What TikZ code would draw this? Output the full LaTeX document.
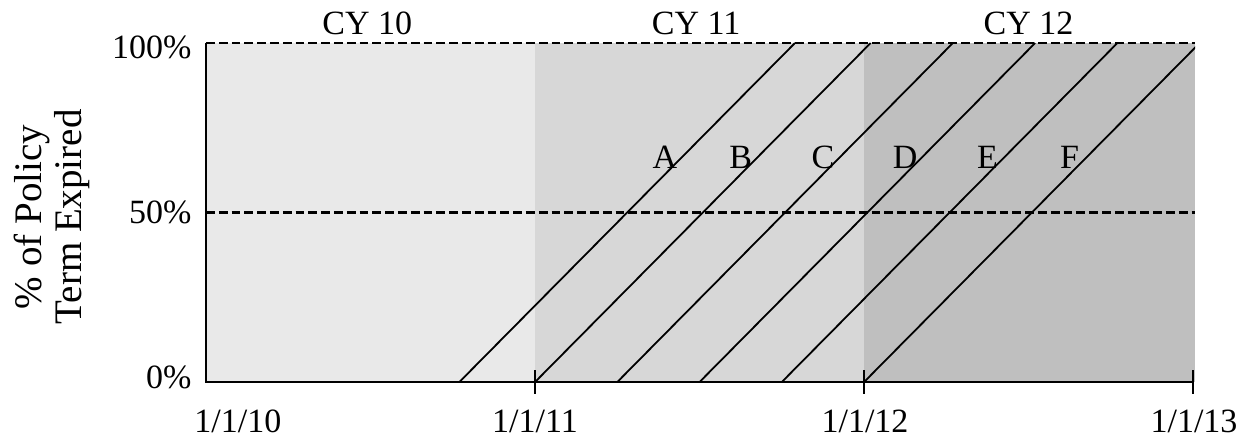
\documentclass[tikz,border=0pt]{standalone}
\usepackage{fontspec}
\setmainfont{Liberation Serif}
\usepackage{xcolor}
\usepackage{tikz}
\usetikzlibrary{positioning}
\definecolor{yearone}{HTML}{E9E9E9}
\definecolor{yeartwo}{HTML}{D7D7D7}
\definecolor{yearthree}{HTML}{BFBFBF}

\begin{document}
\begin{tikzpicture}[
    x=164.5pt, y=169.5pt,
    every node/.style={font=\fontsize{17}{20}\selectfont, inner sep=0pt},
    guide/.style={dash pattern=on 4.4pt off 2pt, line width=1.2pt},
    axis/.style={line width=1pt},
    policy/.style={line width=0.9pt},
    datelab/.style={anchor=base},
    pctlab/.style={anchor=east}
]
    \useasboundingbox (-0.626,-0.165) rectangle (3.164,1.127);

    % Calendar year bands
    \fill[yearone] (0,0) rectangle (1,1);
    \fill[yeartwo] (1,0) rectangle (2,1);
    \fill[yearthree] (2,0) rectangle (3.006,1);

    % Reference levels
    \draw[guide] (0,1) -- (3.006,1);
    \draw[guide] (0,0.5) -- (3.006,0.5);

    % Policy terms
    \begin{scope}
        \clip (0,-0.01) rectangle (3.006,1.01);
        \foreach \s in {0.77, 1.0, 1.25, 1.5, 1.75, 2.0} {
            \draw[policy] (\s,0) -- ++(1.02,1);
        }
    \end{scope}
    \foreach \s/\lab in {0.77/A, 1.0/B, 1.25/C, 1.5/D, 1.75/E, 2.0/F} {
        \node (pol\lab) at (\s+0.625, 0.664) {\lab};
    }

    % Axes
    \draw[axis] (0,1) -- (0,0) -- (3,0);
    \foreach \t in {1,2,3} {
        \draw[axis] (\t,-0.035) -- (\t,0.035);
    }

    % Calendar years
    \node[anchor=base] (cy10) at (0.49,1.024) {CY 10};
    \node[anchor=base] (cy11) at (1.49,1.024) {CY 11};
    \node[anchor=base] (cy12) at (2.50,1.024) {CY 12};

    % Dates
    \node[datelab] (d10) at (0.097,-0.150) {1/1/10};
    \node[datelab] (d11) at (1.0,-0.150) {1/1/11};
    \node[datelab] (d12) at (2.003,-0.150) {1/1/12};
    \node[datelab] (d13) at (3.003,-0.150) {1/1/13};

    % Percent levels
    \node[pctlab] (p0) at (-0.043,0.013) {0\%};
    \node[pctlab] (p50) at (-0.043,0.50) {50\%};
    \node[pctlab] (p100) at (-0.043,0.988) {100\%};

    \node[rotate=90, align=center, font=\fontsize{19.5}{20}\selectfont] (ytitle) at (-0.468,0.487) {\% of Policy\\Term Expired};
\end{tikzpicture}
\end{document}
